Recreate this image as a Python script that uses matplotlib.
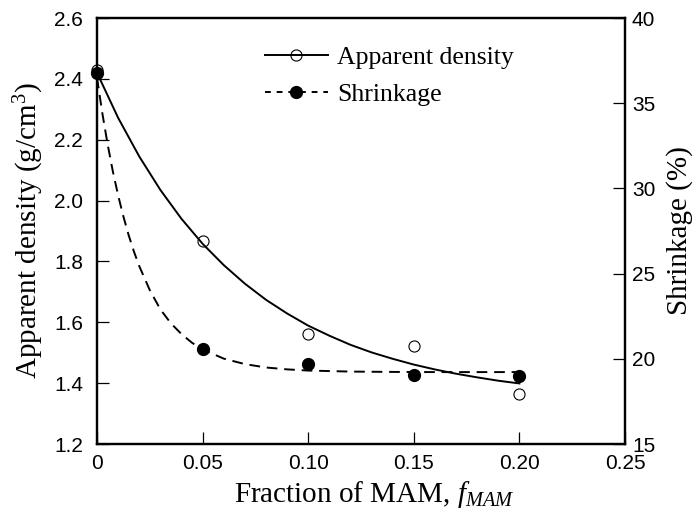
import matplotlib
matplotlib.use('Agg')
import matplotlib.pyplot as plt
from matplotlib.lines import Line2D

# ---- data ----
fraction = [0.0, 0.05, 0.10, 0.15, 0.20]
density = [2.43, 1.868, 1.561, 1.522, 1.364]
shrinkage = [36.8, 20.6, 19.7, 19.05, 19.0]

# fitted trend curves
fit_x_density = [0.0, 0.01, 0.02, 0.03, 0.04, 0.05, 0.06, 0.07, 0.08, 0.09, 0.10,
                 0.11, 0.12, 0.13, 0.14, 0.15, 0.16, 0.17, 0.18, 0.19, 0.20]
fit_density = [2.420, 2.272, 2.145, 2.035, 1.940, 1.858, 1.788, 1.727, 1.674, 1.629, 1.589,
               1.556, 1.526, 1.501, 1.480, 1.461, 1.445, 1.431, 1.419, 1.408, 1.399]

fit_x_shrink = [0.0, 0.0025, 0.005, 0.0075, 0.01, 0.0125, 0.015, 0.0175, 0.02, 0.025,
                0.03, 0.035, 0.04, 0.045, 0.05, 0.06, 0.07, 0.08, 0.09, 0.10, 0.12,
                0.14, 0.16, 0.18, 0.20]
fit_shrink = [36.5, 34.43, 32.61, 31.00, 29.59, 28.35, 27.25, 26.29, 25.44, 24.03,
              22.9, 22.08, 21.45, 20.94, 20.55, 20.01, 19.69, 19.49, 19.38, 19.31, 19.25,
              19.23, 19.22, 19.22, 19.22]

x_ticks = [0, 0.05, 0.10, 0.15, 0.20, 0.25]
x_tick_labels = ['0', '0.05', '0.10', '0.15', '0.20', '0.25']
left_ticks = [1.2, 1.4, 1.6, 1.8, 2.0, 2.2, 2.4, 2.6]
left_tick_labels = ['1.2', '1.4', '1.6', '1.8', '2.0', '2.2', '2.4', '2.6']
right_ticks = [15, 20, 25, 30, 35, 40]
right_tick_labels = ['15', '20', '25', '30', '35', '40']

plt.rcParams['mathtext.fontset'] = 'custom'
plt.rcParams['mathtext.rm'] = 'Liberation Serif'
plt.rcParams['mathtext.it'] = 'Liberation Serif:italic'
plt.rcParams['mathtext.bf'] = 'Liberation Serif:bold'

SERIF = 'Liberation Serif'
SANS = 'Liberation Sans'

fig = plt.figure(figsize=(6.95, 5.16), dpi=100)
ax = fig.add_axes([97/695, 1 - 444/516, 528/695, 426/516])
ax2 = ax.twinx()

# curves
ax.plot(fit_x_density, fit_density, color='black', lw=1.4, zorder=2)
ax2.plot(fit_x_shrink, fit_shrink, color='black', lw=1.4, ls=(0, (5.5, 3.5)), zorder=2)

# markers
ax.plot(fraction, density, ls='none', marker='o', ms=8, mfc='none', mec='black',
        mew=0.8, clip_on=False, zorder=3)
ax2.plot(fraction, shrinkage, ls='none', marker='o', ms=8.5, mfc='black', mec='black',
         clip_on=False, zorder=3)

ax.set_xlim(0, 0.25)
ax.set_ylim(1.2, 2.6)
ax2.set_ylim(15, 40)

ax.set_xticks(x_ticks)
ax.set_xticklabels(x_tick_labels, fontfamily=SANS, fontsize=15)
ax.set_yticks(left_ticks)
ax.set_yticklabels(left_tick_labels, fontfamily=SANS, fontsize=15)
ax2.set_yticks(right_ticks)
ax2.set_yticklabels(right_tick_labels, fontfamily=SANS, fontsize=15)

ax.tick_params(axis='x', direction='in', length=8.5, width=0.9, pad=7, top=False)
ax.tick_params(axis='y', direction='in', length=8.5, width=0.9, pad=10, right=False)
ax2.tick_params(axis='y', direction='in', length=8.5, width=0.9, pad=5)

for a in (ax, ax2):
    for s in a.spines.values():
        s.set_linewidth(1.6)

ax.set_xlabel('Fraction of MAM, $f_{MAM}$', fontfamily=SERIF, fontsize=21)
ax.xaxis.set_label_coords(0.525, -0.081, transform=ax.transAxes)
ax.xaxis.label.set_va('top')
ax.set_ylabel('Apparent density (g/cm$^3$)', fontfamily=SERIF, fontsize=21, labelpad=6)
ax2.set_ylabel('Shrinkage (%)', fontfamily=SERIF, fontsize=21, labelpad=8)

handles = [
    Line2D([], [], color='black', lw=1.4, marker='o', ms=8, mfc='none', mec='black', mew=0.8),
    Line2D([], [], color='black', lw=1.4, ls=(0, (3, 3)), marker='o', ms=8.5, mfc='black'),
]
leg = ax.legend(handles, ['Apparent density', 'Shrinkage'], loc='upper left',
                bbox_to_anchor=(0.318, 0.935), frameon=False, numpoints=1,
                handlelength=2.45, handletextpad=0.35, labelspacing=0.55, borderpad=0,
                borderaxespad=0, prop={'family': SERIF, 'size': 18.5})

fig.savefig('out.png', dpi=100)
